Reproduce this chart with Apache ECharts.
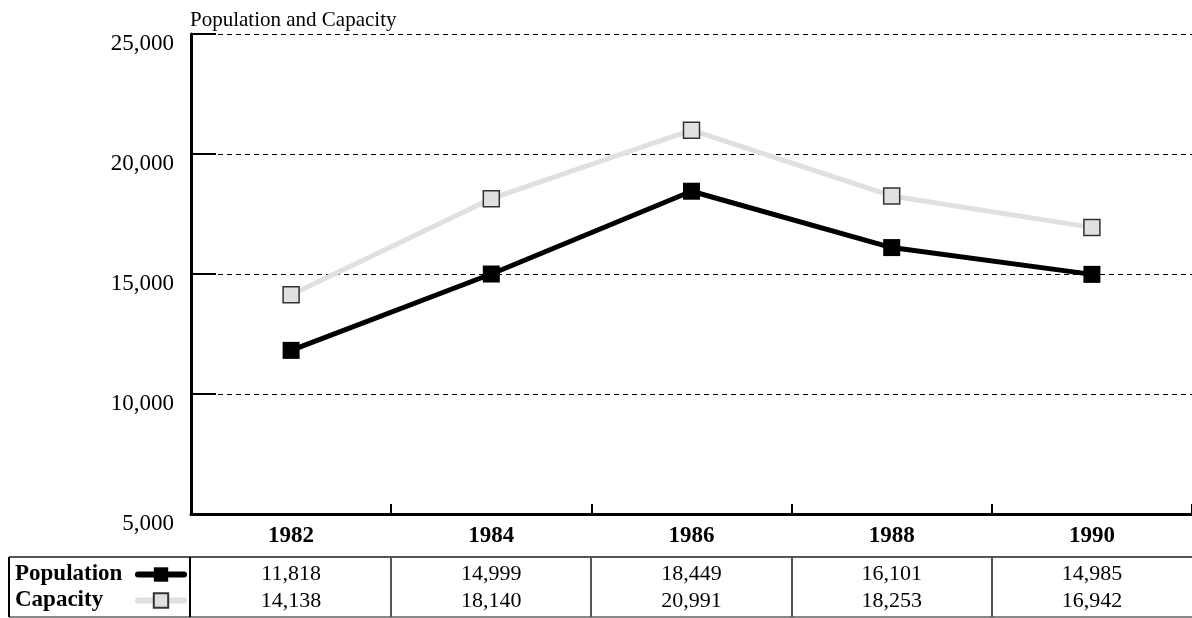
<!DOCTYPE html>
<html>
<head>
<meta charset="utf-8">
<script src="https://cdn.jsdelivr.net/npm/echarts@6/dist/echarts.min.js"></script>
<style>
html,body{margin:0;padding:0;background:#fff;}
#chart{width:1192px;height:618px;}
</style>
</head>
<body>
<div id="chart"></div>
<script>
const years = ['1982', '1984', '1986', '1988', '1990'];
const population = [11818, 14999, 18449, 16101, 14985];
const capacity = [14138, 18140, 20991, 18253, 16942];
const yTicks = [5000, 10000, 15000, 20000, 25000];
const seriesNames = ['Population', 'Capacity'];
const titleText = 'Population and Capacity';

const FONT = '"Liberation Serif", "Times New Roman", serif';
const fmt = v => v.toLocaleString('en-US');

const chart = echarts.init(document.getElementById('chart'), null, {renderer: 'canvas'});

const option = {
  animation: false,
  backgroundColor: '#fff',
  title: {
    text: titleText, left: 185, top: 5,
    textStyle: {fontFamily: FONT, fontSize: 21, fontWeight: 'normal', color: '#000'}
  },
  grid: {left: 191, right: 0, top: 34, bottom: 104, containLabel: false},
  legend: {
    orient: 'vertical', left: 15, top: 563, height: 54, itemGap: 3, align: 'right', padding: 0,
    itemWidth: 46, itemHeight: 18, selectedMode: false,
    data: [
      {name: seriesNames[0], lineStyle: {width: 6, color: '#000', cap: 'round'}},
      {name: seriesNames[1], lineStyle: {width: 6, color: '#e0e0e0', cap: 'round'}}
    ],
    formatter: name => '{a|' + name + '}',
    textStyle: {
      rich: {a: {fontFamily: FONT, fontSize: 23, fontWeight: 'bold', color: '#000', width: 118, align: 'left', lineHeight: 27}}
    }
  },
  xAxis: {
    type: 'category', data: years, boundaryGap: true,
    axisLine: {lineStyle: {color: '#000', width: 3}},
    axisTick: {show: true, inside: true, length: 10, interval: 0, lineStyle: {color: '#000', width: 2}},
    axisLabel: {fontFamily: FONT, fontSize: 23, fontWeight: 'bold', color: '#000', margin: 11, interval: 0},
    splitLine: {show: false}
  },
  yAxis: {
    type: 'value', min: yTicks[0], max: yTicks[yTicks.length - 1], interval: 5000,
    axisLine: {show: true, lineStyle: {color: '#000', width: 3}},
    axisTick: {show: true, inside: true, length: 25, lineStyle: {color: '#000', width: 2}},
    axisLabel: {fontFamily: FONT, fontSize: 23, color: '#000', margin: 17,
      verticalAlign: 'top', lineHeight: 20,
      formatter: v => fmt(v)},
    splitLine: {show: true, lineStyle: {color: '#000', width: 1, type: [5, 4]}}
  },
  series: [
    {
      name: seriesNames[0], type: 'line', data: population,
      symbol: 'rect', symbolSize: 17,
      lineStyle: {color: '#000', width: 5},
      itemStyle: {color: '#000', borderColor: '#000', borderWidth: 0},
      z: 3
    },
    {
      name: seriesNames[1], type: 'line', data: capacity,
      symbol: 'rect', symbolSize: 16,
      lineStyle: {color: '#e0e0e0', width: 5},
      itemStyle: {color: '#e0e0e0', borderColor: '#333', borderWidth: 1.5},
      z: 2
    }
  ]
};
chart.setOption(option);

// Data table below the chart
const tableTop = 557, tableBottom = 617, leftX = 9, firstCol = 190;
const row1 = 574, row2 = 601;
const g = [];
const gray = '#555';
g.push({type: 'line', shape: {x1: leftX, y1: tableTop, x2: 1192, y2: tableTop}, style: {stroke: gray, lineWidth: 2}});
g.push({type: 'line', shape: {x1: leftX, y1: tableBottom, x2: 1192, y2: tableBottom}, style: {stroke: '#888', lineWidth: 2}});
g.push({type: 'line', shape: {x1: leftX, y1: tableTop, x2: leftX, y2: tableBottom}, style: {stroke: '#000', lineWidth: 2}});
g.push({type: 'line', shape: {x1: firstCol, y1: tableTop, x2: firstCol, y2: tableBottom}, style: {stroke: '#000', lineWidth: 2}});
years.forEach((y, i) => {
  const cx = chart.convertToPixel({xAxisIndex: 0}, y);
  const half = (chart.convertToPixel({xAxisIndex: 0}, years[1]) - chart.convertToPixel({xAxisIndex: 0}, years[0])) / 2;
  if (i > 0) {
    const bx = Math.round(cx - half);
    g.push({type: 'line', shape: {x1: bx, y1: tableTop, x2: bx, y2: tableBottom}, style: {stroke: gray, lineWidth: 2}});
  }
  g.push({type: 'text', x: cx, y: row1, style: {text: fmt(population[i]), font: '22px ' + FONT, fill: '#000', align: 'center', verticalAlign: 'middle'}});
  g.push({type: 'text', x: cx, y: row2, style: {text: fmt(capacity[i]), font: '22px ' + FONT, fill: '#000', align: 'center', verticalAlign: 'middle'}});
});
chart.setOption({graphic: g});
</script>
</body>
</html>
